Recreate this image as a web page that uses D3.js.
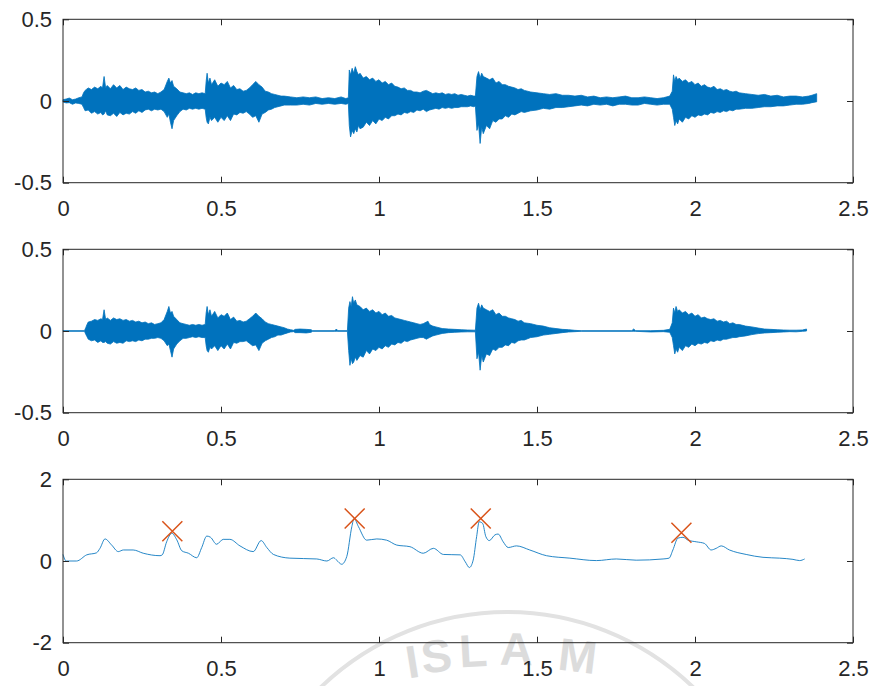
<!DOCTYPE html>
<html><head><meta charset="utf-8">
<script src="https://cdn.jsdelivr.net/npm/d3@7"></script>
<style>body{margin:0;background:#fff}svg{display:block}</style>
</head><body>
<svg id="c" width="874" height="686"></svg>
<script>
// ---------- data ----------
const xTicks = [0, 0.5, 1, 1.5, 2, 2.5];
const xTickLabels = ["0", "0.5", "1", "1.5", "2", "2.5"];
const wfTicks = [-0.5, 0, 0.5];
const wfTickLabels = ["-0.5", "0", "0.5"];
const envTicks = [-2, 0, 2];
const envTickLabels = ["-2", "0", "2"];

// raw signal: upper / lower envelope of the waveform
const rawT = [
  0,0.01,0.02,0.03,0.04,0.05,0.06,0.065,0.07,0.08,
  0.09,0.10,0.11,0.12,0.125,0.13,0.135,0.14,0.15,0.16,
  0.17,0.18,0.19,0.20,0.21,0.22,0.23,0.24,0.25,0.26,
  0.27,0.28,0.29,0.30,0.31,0.32,0.33,0.335,0.34,0.345,
  0.35,0.36,0.37,0.38,0.39,0.40,0.41,0.42,0.43,0.44,
  0.45,0.453,0.456,0.46,0.465,0.47,0.48,0.49,0.50,0.51,
  0.52,0.53,0.54,0.55,0.56,0.57,0.58,0.59,0.60,0.61,
  0.62,0.63,0.64,0.65,0.66,0.67,0.68,0.69,0.70,0.72,
  0.74,0.76,0.78,0.80,0.82,0.84,0.86,0.88,0.895,0.903,
  0.906,0.91,0.915,0.92,0.925,0.93,0.935,0.94,0.95,0.96,
  0.97,0.98,0.99,1.00,1.01,1.02,1.03,1.04,1.05,1.06,
  1.07,1.08,1.09,1.10,1.11,1.12,1.13,1.14,1.15,1.16,
  1.17,1.18,1.19,1.20,1.21,1.22,1.23,1.24,1.25,1.26,
  1.27,1.28,1.29,1.30,1.305,1.31,1.315,1.32,1.325,1.33,
  1.34,1.35,1.36,1.37,1.38,1.39,1.40,1.41,1.42,1.43,
  1.44,1.45,1.46,1.48,1.50,1.52,1.54,1.56,1.58,1.60,
  1.62,1.64,1.66,1.68,1.70,1.72,1.74,1.76,1.78,1.80,
  1.82,1.84,1.86,1.88,1.90,1.92,1.928,1.932,1.936,1.94,
  1.945,1.95,1.96,1.97,1.98,1.99,2.00,2.01,2.02,2.03,
  2.04,2.05,2.06,2.07,2.08,2.09,2.10,2.11,2.12,2.13,
  2.14,2.16,2.18,2.20,2.22,2.24,2.26,2.28,2.30,2.32,
  2.34,2.36,2.37,2.385];
const rawHi = [
  0.008,0.012,0.018,0.008,0.012,0.02,0.025,0.05,0.065,0.08,
  0.07,0.085,0.075,0.09,0.08,0.15,0.08,0.095,0.075,0.10,
  0.08,0.095,0.07,0.085,0.075,0.07,0.08,0.065,0.07,0.055,
  0.06,0.05,0.055,0.045,0.055,0.07,0.12,0.14,0.11,0.125,
  0.09,0.075,0.055,0.05,0.045,0.05,0.04,0.05,0.045,0.05,
  0.045,0.12,0.17,0.11,0.14,0.10,0.13,0.09,0.11,0.10,
  0.12,0.08,0.095,0.07,0.075,0.06,0.065,0.08,0.10,0.12,
  0.10,0.085,0.06,0.055,0.045,0.04,0.035,0.03,0.03,0.025,
  0.02,0.025,0.02,0.025,0.015,0.02,0.015,0.025,0.015,0.02,
  0.19,0.16,0.20,0.17,0.21,0.18,0.16,0.17,0.14,0.15,
  0.13,0.14,0.12,0.13,0.11,0.12,0.10,0.11,0.09,0.085,
  0.075,0.08,0.065,0.065,0.055,0.055,0.05,0.06,0.065,0.055,
  0.045,0.05,0.045,0.05,0.04,0.045,0.04,0.045,0.035,0.04,
  0.035,0.03,0.035,0.03,0.03,0.15,0.18,0.14,0.17,0.15,
  0.14,0.13,0.14,0.11,0.12,0.10,0.10,0.09,0.085,0.08,
  0.07,0.075,0.065,0.055,0.05,0.045,0.04,0.045,0.035,0.035,
  0.03,0.035,0.025,0.03,0.02,0.025,0.02,0.025,0.03,0.02,
  0.02,0.025,0.02,0.015,0.02,0.03,0.06,0.16,0.12,0.15,
  0.13,0.14,0.12,0.13,0.11,0.12,0.10,0.11,0.09,0.10,
  0.085,0.08,0.09,0.07,0.075,0.065,0.07,0.06,0.055,0.06,
  0.05,0.045,0.04,0.035,0.04,0.03,0.035,0.025,0.03,0.03,
  0.025,0.03,0.035,0.045];
const rawLo = [
  -0.006,-0.012,-0.01,-0.02,-0.012,-0.015,-0.02,-0.04,-0.06,-0.055,
  -0.075,-0.065,-0.08,-0.07,-0.085,-0.08,-0.06,-0.085,-0.09,-0.075,
  -0.095,-0.07,-0.085,-0.075,-0.08,-0.065,-0.075,-0.06,-0.07,-0.055,
  -0.05,-0.06,-0.05,-0.055,-0.05,-0.065,-0.10,-0.08,-0.13,-0.17,
  -0.12,-0.09,-0.065,-0.05,-0.055,-0.045,-0.05,-0.045,-0.05,-0.045,
  -0.05,-0.10,-0.13,-0.14,-0.10,-0.12,-0.10,-0.13,-0.10,-0.12,
  -0.09,-0.12,-0.08,-0.085,-0.07,-0.075,-0.065,-0.08,-0.10,-0.09,
  -0.13,-0.08,-0.07,-0.055,-0.05,-0.04,-0.035,-0.03,-0.025,-0.025,
  -0.025,-0.02,-0.025,-0.015,-0.02,-0.015,-0.02,-0.015,-0.02,-0.015,
  -0.15,-0.22,-0.18,-0.20,-0.17,-0.19,-0.15,-0.17,-0.16,-0.13,
  -0.15,-0.12,-0.14,-0.11,-0.12,-0.10,-0.11,-0.09,-0.09,-0.08,
  -0.085,-0.07,-0.075,-0.065,-0.07,-0.055,-0.06,-0.05,-0.065,-0.055,
  -0.05,-0.045,-0.05,-0.04,-0.045,-0.04,-0.045,-0.04,-0.04,-0.035,
  -0.035,-0.035,-0.03,-0.035,-0.03,-0.18,-0.14,-0.26,-0.16,-0.20,
  -0.15,-0.17,-0.12,-0.13,-0.11,-0.11,-0.09,-0.10,-0.08,-0.085,
  -0.075,-0.065,-0.07,-0.06,-0.055,-0.045,-0.05,-0.04,-0.04,-0.035,
  -0.03,-0.025,-0.03,-0.02,-0.025,-0.02,-0.03,-0.02,-0.02,-0.025,
  -0.025,-0.015,-0.02,-0.025,-0.02,-0.02,-0.05,-0.10,-0.15,-0.12,
  -0.14,-0.11,-0.13,-0.10,-0.11,-0.09,-0.10,-0.085,-0.09,-0.08,
  -0.085,-0.07,-0.075,-0.065,-0.07,-0.06,-0.065,-0.055,-0.06,-0.05,
  -0.05,-0.045,-0.045,-0.04,-0.035,-0.035,-0.03,-0.03,-0.025,-0.02,
  -0.02,-0.015,-0.01,-0.005];

// filtered signal: upper / lower envelope
const filtT = [
  0,0.068,0.072,0.076,0.08,0.09,0.10,0.11,0.12,0.125,
  0.13,0.135,0.14,0.15,0.16,0.17,0.18,0.19,0.20,0.21,
  0.22,0.23,0.24,0.25,0.26,0.27,0.28,0.29,0.30,0.31,
  0.32,0.33,0.335,0.34,0.345,0.35,0.36,0.37,0.38,0.39,
  0.40,0.41,0.42,0.43,0.44,0.45,0.453,0.456,0.46,0.465,
  0.47,0.48,0.49,0.50,0.51,0.52,0.53,0.54,0.55,0.56,
  0.57,0.58,0.59,0.60,0.61,0.62,0.63,0.64,0.65,0.66,
  0.67,0.68,0.69,0.70,0.71,0.72,0.73,0.735,0.75,0.77,
  0.785,0.79,0.86,0.865,0.87,0.90,0.904,0.908,0.912,0.916,
  0.92,0.925,0.93,0.94,0.95,0.96,0.97,0.98,0.99,1.00,
  1.01,1.02,1.03,1.04,1.05,1.06,1.07,1.08,1.09,1.10,
  1.11,1.12,1.13,1.14,1.15,1.155,1.16,1.17,1.18,1.19,
  1.20,1.22,1.24,1.26,1.28,1.30,1.305,1.31,1.315,1.32,
  1.325,1.33,1.34,1.35,1.36,1.37,1.38,1.39,1.40,1.41,
  1.42,1.43,1.44,1.45,1.46,1.48,1.50,1.52,1.54,1.56,
  1.58,1.60,1.62,1.64,1.80,1.806,1.812,1.86,1.90,1.92,
  1.928,1.932,1.936,1.94,1.945,1.95,1.96,1.97,1.98,1.99,
  2.00,2.01,2.02,2.03,2.04,2.05,2.06,2.07,2.08,2.09,
  2.10,2.11,2.12,2.13,2.14,2.16,2.18,2.20,2.22,2.24,
  2.26,2.28,2.30,2.32,2.34,2.353];
const filtHi = [
  0.002,0.002,0.02,0.04,0.055,0.06,0.07,0.065,0.075,0.07,
  0.13,0.07,0.08,0.065,0.08,0.07,0.075,0.065,0.07,0.06,
  0.065,0.055,0.06,0.05,0.055,0.045,0.05,0.04,0.045,0.05,
  0.07,0.12,0.15,0.11,0.12,0.09,0.07,0.05,0.045,0.04,
  0.035,0.04,0.035,0.04,0.035,0.04,0.11,0.15,0.10,0.13,
  0.09,0.12,0.08,0.10,0.09,0.11,0.07,0.085,0.06,0.065,
  0.055,0.06,0.075,0.09,0.11,0.09,0.075,0.055,0.045,0.04,
  0.035,0.03,0.025,0.02,0.012,0.008,0.004,0.01,0.012,0.01,
  0.008,0.002,0.002,0.012,0.002,0.002,0.14,0.18,0.15,0.21,
  0.17,0.19,0.16,0.15,0.13,0.14,0.12,0.13,0.11,0.12,
  0.10,0.11,0.09,0.095,0.08,0.075,0.07,0.065,0.06,0.055,
  0.05,0.045,0.04,0.045,0.055,0.06,0.04,0.03,0.025,0.02,
  0.015,0.012,0.01,0.008,0.006,0.005,0.005,0.14,0.17,0.13,
  0.16,0.14,0.13,0.12,0.13,0.10,0.11,0.09,0.09,0.08,
  0.075,0.07,0.06,0.065,0.05,0.045,0.035,0.03,0.02,0.015,
  0.01,0.008,0.004,0.002,0.002,0.012,0.002,0.002,0.004,0.01,
  0.05,0.14,0.11,0.15,0.12,0.13,0.11,0.12,0.10,0.11,
  0.09,0.10,0.08,0.085,0.075,0.07,0.075,0.06,0.065,0.055,
  0.06,0.045,0.05,0.04,0.04,0.03,0.025,0.018,0.012,0.01,
  0.008,0.006,0.005,0.005,0.006,0.012];
const filtLo = [
  -0.002,-0.002,-0.02,-0.035,-0.05,-0.06,-0.055,-0.07,-0.06,-0.07,
  -0.07,-0.065,-0.075,-0.08,-0.065,-0.075,-0.07,-0.075,-0.06,-0.065,
  -0.06,-0.065,-0.055,-0.06,-0.05,-0.05,-0.045,-0.045,-0.04,-0.045,
  -0.06,-0.09,-0.08,-0.12,-0.16,-0.11,-0.08,-0.06,-0.045,-0.045,
  -0.04,-0.035,-0.04,-0.035,-0.04,-0.04,-0.09,-0.12,-0.13,-0.10,
  -0.11,-0.09,-0.12,-0.09,-0.11,-0.08,-0.11,-0.07,-0.075,-0.065,
  -0.065,-0.06,-0.075,-0.09,-0.085,-0.12,-0.075,-0.06,-0.05,-0.04,
  -0.035,-0.025,-0.025,-0.018,-0.012,-0.006,-0.004,-0.01,-0.01,-0.012,
  -0.008,-0.002,-0.002,-0.002,-0.002,-0.002,-0.12,-0.21,-0.17,-0.20,
  -0.19,-0.16,-0.18,-0.15,-0.16,-0.12,-0.14,-0.11,-0.12,-0.10,
  -0.11,-0.09,-0.10,-0.08,-0.085,-0.07,-0.075,-0.06,-0.065,-0.055,
  -0.05,-0.045,-0.04,-0.04,-0.05,-0.045,-0.04,-0.03,-0.025,-0.02,
  -0.015,-0.01,-0.008,-0.006,-0.005,-0.005,-0.005,-0.17,-0.13,-0.24,
  -0.15,-0.19,-0.14,-0.15,-0.11,-0.12,-0.10,-0.10,-0.085,-0.09,
  -0.07,-0.075,-0.06,-0.055,-0.055,-0.04,-0.035,-0.025,-0.02,-0.015,
  -0.01,-0.006,-0.004,-0.002,-0.002,-0.002,-0.002,-0.006,-0.004,-0.008,
  -0.04,-0.09,-0.14,-0.11,-0.13,-0.10,-0.12,-0.09,-0.10,-0.08,
  -0.09,-0.075,-0.08,-0.07,-0.075,-0.06,-0.065,-0.055,-0.06,-0.05,
  -0.05,-0.045,-0.04,-0.04,-0.035,-0.03,-0.022,-0.016,-0.012,-0.01,
  -0.008,-0.006,-0.004,-0.005,-0.002,0.0];

// onset / energy envelope
const envT = [0.000,0.010,0.043,0.075,0.106,0.117,0.133,0.154,0.175,0.191,0.222,0.254,0.307,0.314,0.328,0.344,0.360,0.376,0.397,0.423,0.439,0.455,0.467,0.486,0.507,0.528,0.560,0.602,0.627,0.645,0.666,0.718,0.803,0.835,0.856,0.866,0.882,0.898,0.914,0.921,0.935,0.961,0.993,1.024,1.056,1.098,1.140,1.172,1.204,1.257,1.273,1.286,1.298,1.309,1.317,1.328,1.338,1.349,1.367,1.377,1.393,1.409,1.435,1.477,1.530,1.604,1.688,1.751,1.814,1.899,1.918,1.930,1.946,1.962,1.978,2.004,2.030,2.051,2.067,2.083,2.109,2.162,2.215,2.268,2.310,2.331,2.347];
const envV = [0.16,0.00,0.00,0.15,0.20,0.31,0.54,0.39,0.23,0.27,0.27,0.19,0.13,0.15,0.47,0.68,0.52,0.25,0.19,0.08,0.33,0.61,0.58,0.41,0.53,0.53,0.37,0.23,0.50,0.33,0.16,0.07,0.05,0.00,0.08,0.02,-0.08,0.11,0.84,1.04,0.84,0.51,0.54,0.51,0.39,0.35,0.19,0.31,0.16,0.15,-0.02,-0.16,0.02,0.60,0.96,0.92,0.60,0.50,0.64,0.66,0.47,0.33,0.37,0.27,0.13,0.07,0.01,0.05,0.02,0.05,0.07,0.27,0.56,0.58,0.51,0.47,0.43,0.27,0.31,0.37,0.27,0.16,0.09,0.07,0.04,0.01,0.05];

// detected peaks
const peakT = [0.346, 0.923, 1.322, 1.957];
const peakV = [0.73, 1.04, 1.04, 0.69];

// watermark letters
const wmLetters = ["I", "S", "L", "A", "M"];

// ---------- drawing ----------
const svg = d3.select("#c");
const X0 = 63, X1 = 853;
const x = d3.scaleLinear().domain([0, 2.5]).range([X0, X1]);
const BLUE = "#0072BD", ORANGE = "#D95319", AX = "#262626";
const FONT = "Liberation Sans, Arial, Helvetica, sans-serif";

// watermark (faint, behind the plots)
const wm = svg.append("g");
const cx = 507, cy = 880, r = 268;
wm.append("circle").attr("cx", cx).attr("cy", cy).attr("r", r)
  .attr("fill", "none").attr("stroke", "#e2e2e2").attr("stroke-width", 4);
const tr = 345, tcy = 1010;                       // baseline arc of the letters
const angles = [-15.5, -11.5, -5.5, 1.5, 11.5];   // degrees from vertical
wm.selectAll("text.wm").data(wmLetters).enter().append("text")
  .attr("class", "wm")
  .attr("font-family", FONT).attr("font-weight", "bold")
  .attr("font-size", 46).attr("fill", "#dcdcdc").attr("text-anchor", "middle")
  .attr("transform", (d, i) => {
    const a = angles[i] * Math.PI / 180;
    const px = cx + tr * Math.sin(a), py = tcy - tr * Math.cos(a);
    return `translate(${px},${py}) rotate(${angles[i] * 0.6})`;
  })
  .text(d => d);

function axes(g, y, top, bottom, yTicks, yLabels) {
  const bx = d3.axisBottom(x).tickValues(xTicks).tickFormat((d, i) => xTickLabels[i])
    .tickSizeInner(-6).tickSizeOuter(0).tickPadding(18);
  const tx = d3.axisTop(x).tickValues(xTicks).tickFormat("").tickSizeInner(-6).tickSizeOuter(0);
  const ly = d3.axisLeft(y).tickValues(yTicks).tickFormat((d, i) => yLabels[i])
    .tickSizeInner(-6).tickSizeOuter(0).tickPadding(11);
  const ry = d3.axisRight(y).tickValues(yTicks).tickFormat("").tickSizeInner(-6).tickSizeOuter(0);
  const list = [
    g.append("g").attr("transform", `translate(0,${bottom})`).call(bx),
    g.append("g").attr("transform", `translate(0,${top})`).call(tx),
    g.append("g").attr("transform", `translate(${X0},0)`).call(ly),
    g.append("g").attr("transform", `translate(${X1},0)`).call(ry)
  ];
  list.forEach(a => {
    a.select(".domain").remove();
    a.selectAll("line").attr("stroke", AX).attr("stroke-width", 1);
    a.selectAll("text").attr("fill", AX).attr("font-size", 22).attr("font-family", FONT);
  });
  g.append("rect").attr("x", X0).attr("y", top).attr("width", X1 - X0).attr("height", bottom - top)
    .attr("fill", "none").attr("stroke", AX).attr("stroke-width", 1);
}

function wave(top, bottom, T, Hi, Lo) {
  const y = d3.scaleLinear().domain([-0.5, 0.5]).range([bottom, top]);
  const g = svg.append("g");
  const idx = d3.range(T.length);
  g.append("path").datum(idx)
    .attr("d", d3.area().x(i => x(T[i])).y0(i => y(Lo[i])).y1(i => y(Hi[i])).curve(d3.curveLinear))
    .attr("fill", BLUE).attr("stroke", BLUE).attr("stroke-width", 0.8).attr("stroke-linejoin", "round");
  axes(g, y, top, bottom, wfTicks, wfTickLabels);
}

wave(19.3, 182.7, rawT, rawHi, rawLo);
wave(249.3, 412.7, filtT, filtHi, filtLo);

// envelope panel
(function () {
  const top = 479.3, bottom = 642.7;
  const y = d3.scaleLinear().domain([-2, 2]).range([bottom, top]);
  const g = svg.append("g");
  const idx = d3.range(envT.length);
  g.append("path").datum(idx)
    .attr("d", d3.line().x(i => x(envT[i])).y(i => y(envV[i])).curve(d3.curveMonotoneX))
    .attr("fill", "none").attr("stroke", BLUE).attr("stroke-width", 1).attr("opacity", 0.85);
  const s = 10;
  const pk = g.selectAll("g.pk").data(d3.range(peakT.length)).enter().append("g")
    .attr("transform", i => `translate(${x(peakT[i])},${y(peakV[i])})`);
  pk.append("path").attr("d", `M${-s},${-s}L${s},${s}M${-s},${s}L${s},${-s}`)
    .attr("stroke", ORANGE).attr("stroke-width", 1.5).attr("fill", "none");
  axes(g, y, top, bottom, envTicks, envTickLabels);
})();
</script>
</body></html>
